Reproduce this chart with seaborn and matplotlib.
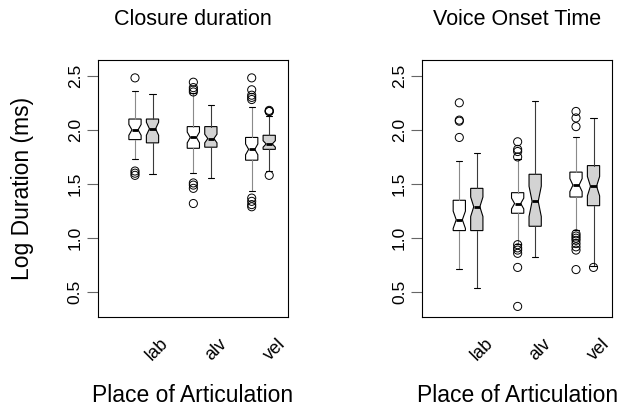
import matplotlib
matplotlib.use("Agg")
import matplotlib.pyplot as plt
import matplotlib.transforms as mtransforms
import seaborn as sns
import pandas as pd

places = ["lab", "alv", "vel"]
titles = ["Closure duration", "Voice Onset Time"]
yticks = [0.5, 1.0, 1.5, 2.0, 2.5]

# five numbers per box: whisker low, q1, median, q3, whisker high
cd_plain = [
    [1.73, 1.91, 2.00, 2.10, 2.36],
    [1.60, 1.83, 1.93, 2.03, 2.34],
    [1.44, 1.72, 1.82, 1.93, 2.21],
]
cd_plain_notch = [0.05, 0.05, 0.05]
cd_plain_out = [
    [2.48, 1.62, 1.60, 1.58],
    [2.44, 2.39, 2.37, 2.35, 1.51, 1.49, 1.46, 1.32],
    [2.48, 2.37, 2.32, 2.30, 2.28, 1.37, 1.34, 1.31, 1.29],
]

cd_grey = [
    [1.59, 1.88, 2.01, 2.10, 2.33],
    [1.56, 1.84, 1.92, 2.03, 2.23],
    [1.62, 1.82, 1.87, 1.95, 2.13],
]
cd_grey_notch = [0.06, 0.04, 0.03]
cd_grey_out = [[], [], [2.18, 2.17, 2.17, 1.58]]

vot_plain = [
    [0.72, 1.07, 1.17, 1.35, 1.71],
    [0.95, 1.23, 1.32, 1.42, 1.73],
    [1.08, 1.38, 1.49, 1.61, 1.93],
]
vot_plain_notch = [0.08, 0.05, 0.06]
vot_plain_out = [
    [2.25, 2.09, 2.08, 1.93],
    [1.89, 1.82, 1.80, 1.75, 0.94, 0.91, 0.89, 0.86, 0.73, 0.37],
    [2.17, 2.11, 2.03, 1.04, 1.02, 1.00, 0.98, 0.95, 0.92, 0.89, 0.71],
]

vot_grey = [
    [0.54, 1.07, 1.29, 1.46, 1.79],
    [0.83, 1.11, 1.34, 1.59, 2.27],
    [0.74, 1.30, 1.48, 1.67, 2.11],
]
vot_grey_notch = [0.09, 0.14, 0.09]
vot_grey_out = [[], [], [0.73]]

GREY = "#d3d3d3"
OFFSET = 0.3
WIDTH = 0.21

sns.set_theme(style="white")
plt.rcParams["font.family"] = ["Liberation Sans", "DejaVu Sans"]
plt.rcParams["text.color"] = "black"
plt.rcParams["axes.labelcolor"] = "black"
plt.rcParams["ytick.color"] = "black"
plt.rcParams["xtick.color"] = "black"


def make_stats(rows, notches):
    stats = []
    for (lo, q1, med, q3, hi), n in zip(rows, notches):
        stats.append(dict(whislo=lo, q1=q1, med=med, q3=q3, whishi=hi,
                          cilo=med - n, cihi=med + n, fliers=[]))
    return stats


def draw_boxes(ax, rows, notches, shift, fill, wcol):
    pos = [i + 1 + shift for i in range(len(rows))]
    ax.bxp(make_stats(rows, notches), positions=pos, widths=WIDTH,
           shownotches=True, patch_artist=True, showfliers=False, manage_ticks=False,
           boxprops=dict(facecolor=fill, edgecolor="black", linewidth=0.8),
           medianprops=dict(color="black", linewidth=2.0, solid_capstyle="butt"),
           whiskerprops=dict(color=wcol, linewidth=0.8),
           capprops=dict(color="black", linewidth=0.8))


def outlier_frame(out_lists, shift):
    recs = []
    for i, vals in enumerate(out_lists):
        for v in vals:
            recs.append({"pos": i + 1 + shift, "value": v})
    return pd.DataFrame(recs, columns=["pos", "value"])


fig = plt.figure(figsize=(6.26, 4.07), dpi=100)
fig.patch.set_facecolor("white")

panels = [
    (cd_plain, cd_plain_notch, cd_plain_out, cd_grey, cd_grey_notch, cd_grey_out),
    (vot_plain, vot_plain_notch, vot_plain_out, vot_grey, vot_grey_notch, vot_grey_out),
]
lefts = [98 / 626, 422.3 / 626]

for k, (pr, pn, po, gr, gn, go) in enumerate(panels):
    ax = fig.add_axes([lefts[k], 90.3 / 407, 190 / 626, 256.7 / 407])
    ax.set_facecolor("white")

    draw_boxes(ax, pr, pn, 0.0, "white", "#8a8a8a")
    draw_boxes(ax, gr, gn, OFFSET, GREY, "#3a3a3a")

    outs = pd.concat([outlier_frame(po, 0.0), outlier_frame(go, OFFSET)],
                     ignore_index=True)
    sns.scatterplot(data=outs, x="pos", y="value", ax=ax, marker="o", s=34,
                    facecolors="none", edgecolor="black", linewidth=0.7,
                    legend=False, zorder=4)

    ax.set_xlim(0.366, 3.622)
    ax.set_ylim(0.275, 2.645)
    ax.set_xticks([])
    ax.set_xlabel("")
    ax.set_ylabel("")
    ax.set_yticks(yticks)
    ax.set_yticklabels([f"{t:.1f}" for t in yticks])
    ax.tick_params(axis="y", direction="out", length=8, width=0.8,
                   color="#666666", labelcolor="black", labelsize=12.5,
                   pad=3, left=True)
    for lab in ax.get_yticklabels():
        lab.set_rotation(90)
        lab.set_va("center")
    for spine in ax.spines.values():
        spine.set_visible(True)
        spine.set_edgecolor("black")
        spine.set_linewidth(0.8)

    ax.set_title(titles[k], fontsize=15.5, pad=25, color="black")

    trans = mtransforms.blended_transform_factory(ax.transData, ax.transAxes)
    for i, name in enumerate(places):
        ax.text(i + 1 + 0.43, -0.072, name, transform=trans, rotation=45,
                rotation_mode="anchor", ha="right", va="top", fontsize=13,
                color="black", clip_on=False)

    ax.text(0.5, -0.332, "Place of Articulation", transform=ax.transAxes,
            ha="center", va="baseline", fontsize=16.5, color="black")

fig.text(23 / 626, 1 - 188 / 407, "Log Duration (ms)", rotation=90,
         ha="center", va="center", fontsize=16.5, color="black")

fig.savefig("out.png", dpi=100)
